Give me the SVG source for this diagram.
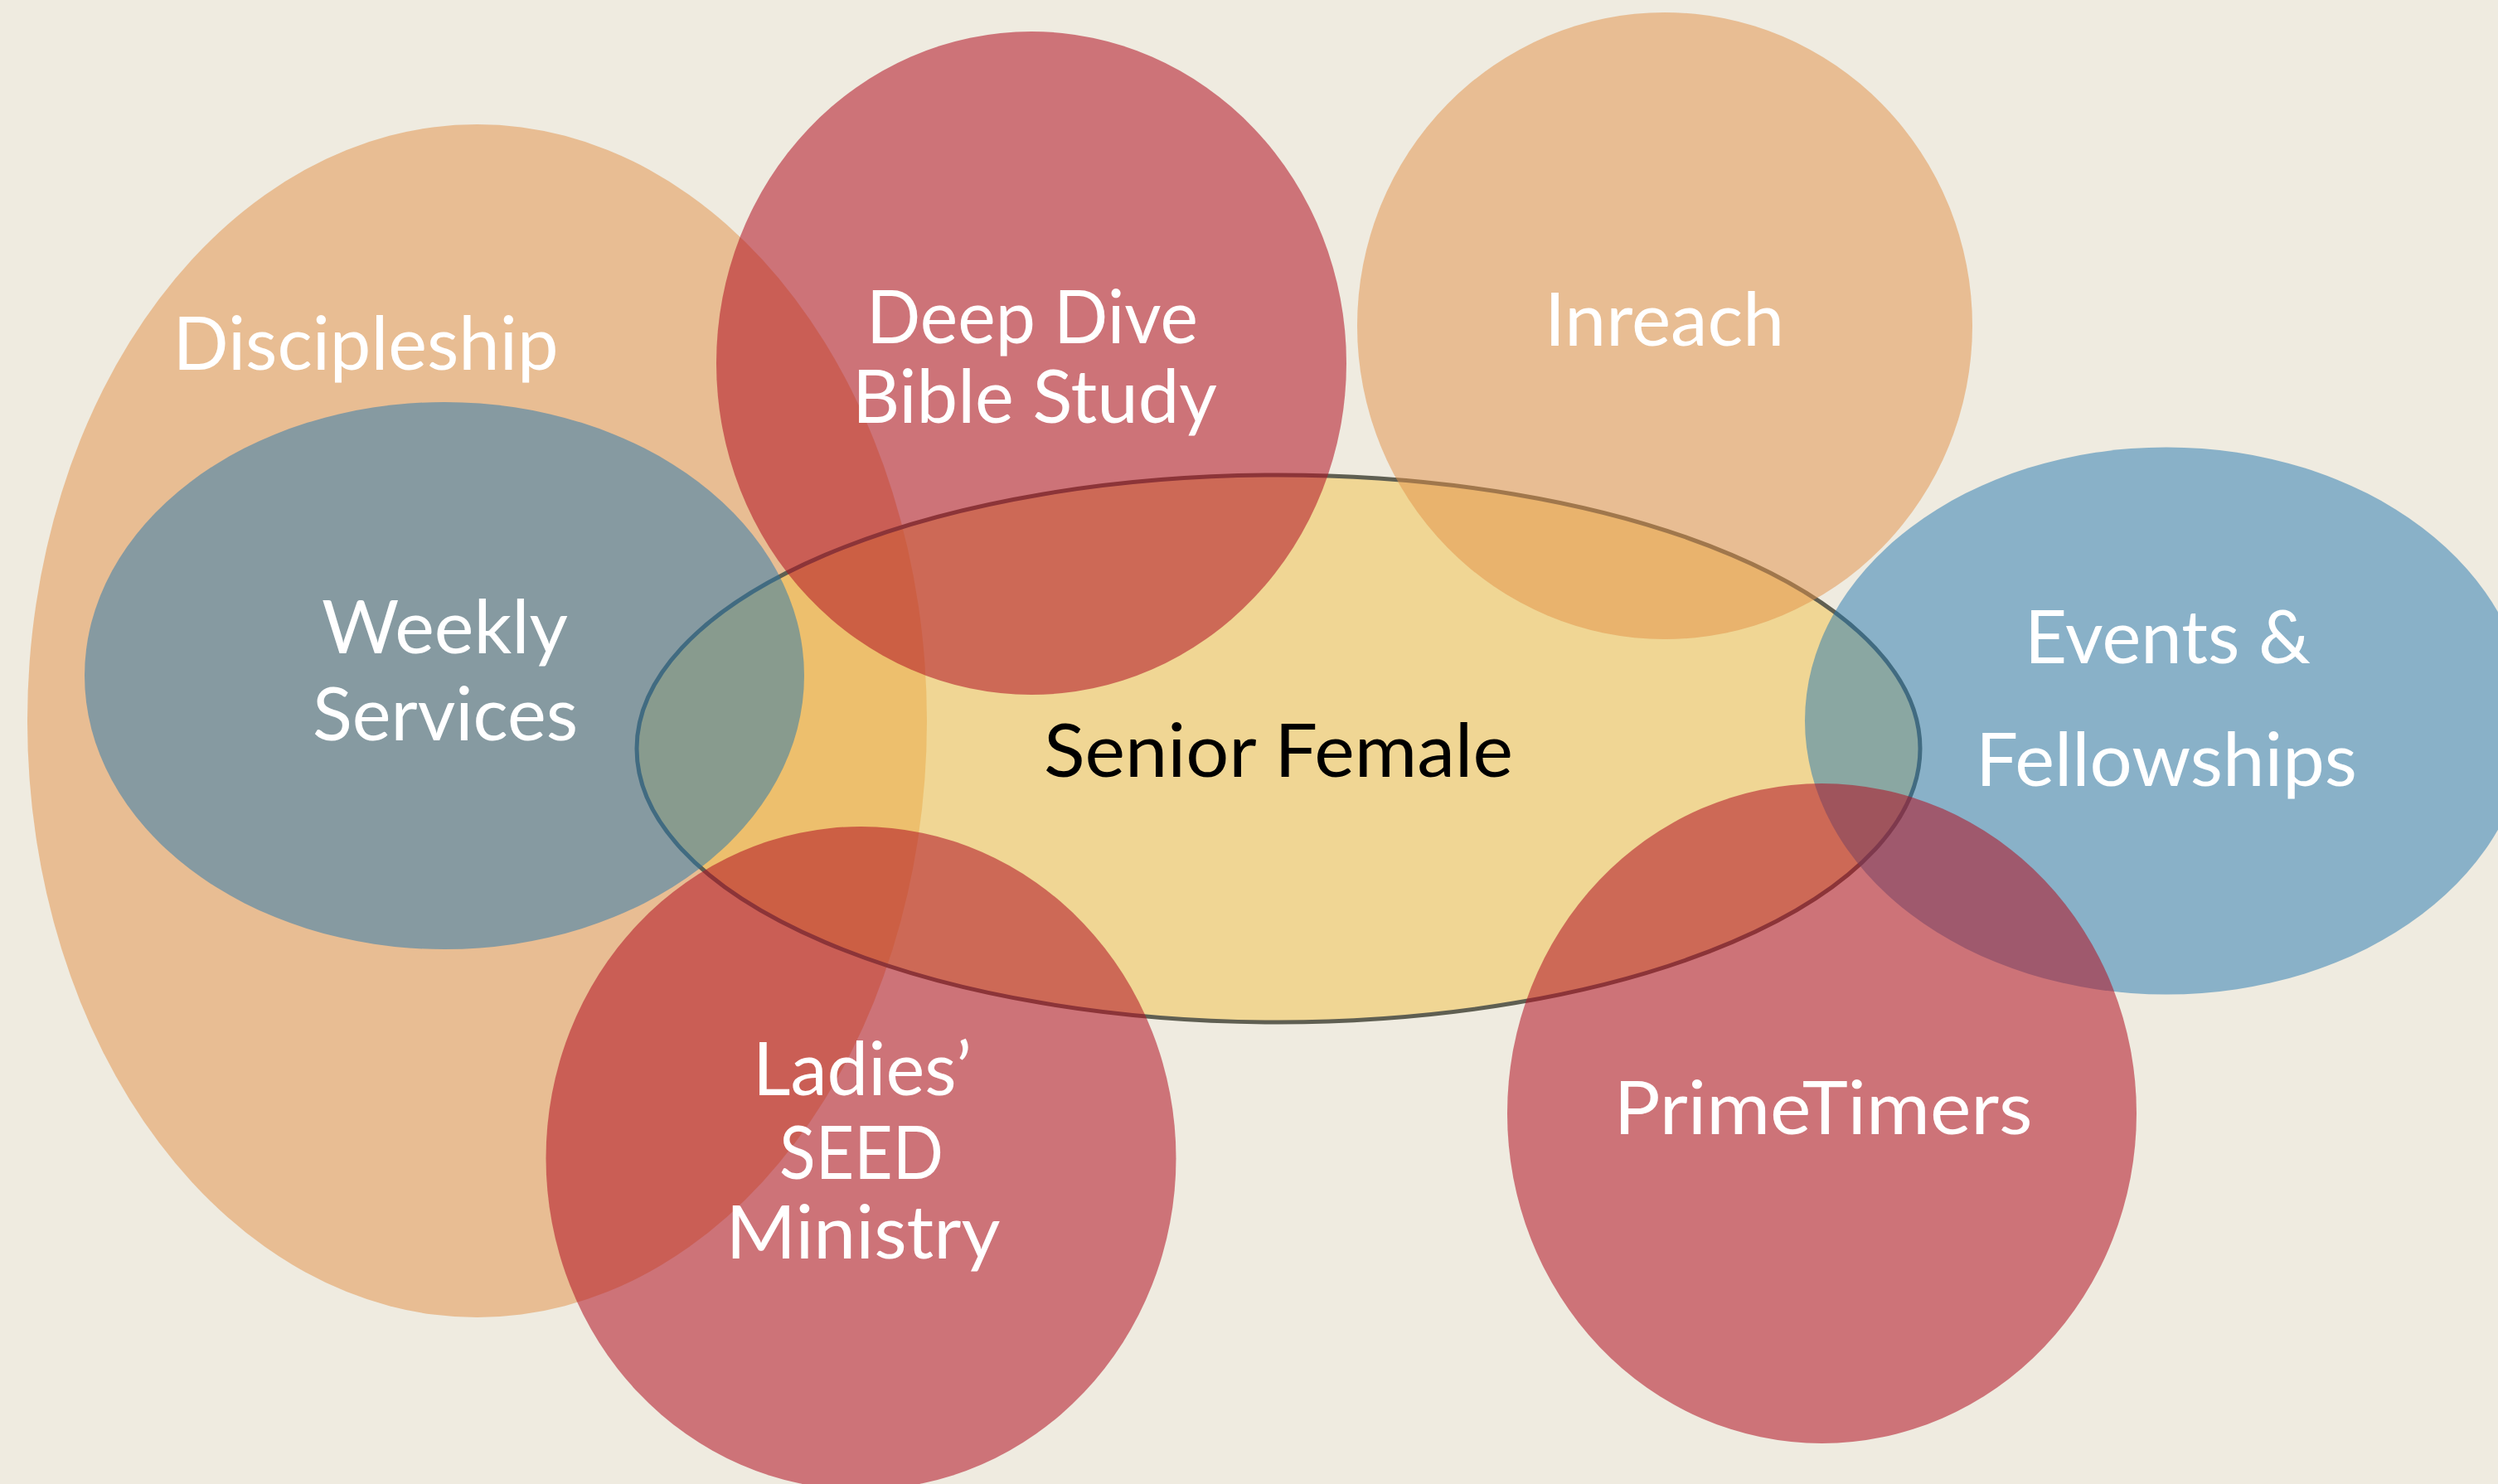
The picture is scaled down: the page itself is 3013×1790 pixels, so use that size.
<svg xmlns="http://www.w3.org/2000/svg" width="3013" height="1790" viewBox="0 0 3013 1790">
<style>
.bg{fill:#EFEBE0}
.org{fill:#E18F46;fill-opacity:.5}
.red{fill:#B11123;fill-opacity:.55}
.blu{fill:#2377B0;fill-opacity:.5}
.yel{fill:#F1C148;fill-opacity:.5;stroke:#5F5F52;stroke-width:5}
.t{font-family:Lato,"Open Sans","Liberation Sans",sans-serif;font-size:90px;fill:#FFFFFF;text-anchor:middle}
.dark{fill:#000000}
</style>
<rect class="bg" x="0" y="0" width="3013" height="1790"/>
<g id="discipleship">
<ellipse class="org" cx="575.5" cy="869.5" rx="542.5" ry="719.5"/>
<text class="t" x="441" y="446" textLength="465" lengthAdjust="spacingAndGlyphs">Discipleship</text>
</g>
<g id="senior-female">
<ellipse class="yel" cx="1542" cy="903" rx="774" ry="330"/>
</g>
<g id="weekly-services">
<ellipse class="blu" cx="536" cy="815" rx="434" ry="330"/>
<text class="t" x="536.5" y="788" textLength="297" lengthAdjust="spacingAndGlyphs">Weekly</text>
<text class="t" x="537" y="893" textLength="320" lengthAdjust="spacingAndGlyphs">Services</text>
</g>
<g id="deep-dive">
<ellipse class="red" cx="1244" cy="438" rx="380" ry="400"/>
<text class="t" x="1245" y="414" textLength="400" lengthAdjust="spacingAndGlyphs">Deep Dive</text>
<text class="t" x="1248" y="510" textLength="440" lengthAdjust="spacingAndGlyphs">Bible Study</text>
</g>
<g id="ladies-seed">
<ellipse class="red" cx="1038.5" cy="1397" rx="380" ry="400"/>
<text class="t" x="1040" y="1321" textLength="264" lengthAdjust="spacingAndGlyphs">Ladies’</text>
<text class="t" x="1039" y="1422" textLength="198" lengthAdjust="spacingAndGlyphs">SEED</text>
<text class="t" x="1041" y="1518" textLength="331" lengthAdjust="spacingAndGlyphs">Ministry</text>
</g>
<g id="inreach">
<ellipse class="org" cx="2008" cy="393" rx="371" ry="378"/>
<text class="t" x="2007.5" y="417" textLength="289" lengthAdjust="spacingAndGlyphs">Inreach</text>
</g>
<g id="events-fellowships">
<ellipse class="blu" cx="2613" cy="869.5" rx="436" ry="330"/>
<text class="t" x="2614.5" y="800" textLength="345" lengthAdjust="spacingAndGlyphs">Events &amp;</text>
<text class="t" x="2613" y="948" textLength="460" lengthAdjust="spacingAndGlyphs">Fellowships</text>
</g>
<g id="primetimers">
<ellipse class="red" cx="2197.5" cy="1343" rx="379.5" ry="398"/>
<text class="t" x="2199" y="1368" textLength="505" lengthAdjust="spacingAndGlyphs">PrimeTimers</text>
</g>
<g id="senior-female-label">
<text class="t dark" x="1542" y="937" textLength="566" lengthAdjust="spacingAndGlyphs">Senior Female</text>
</g>
<g id="connectors"/>
</svg>
